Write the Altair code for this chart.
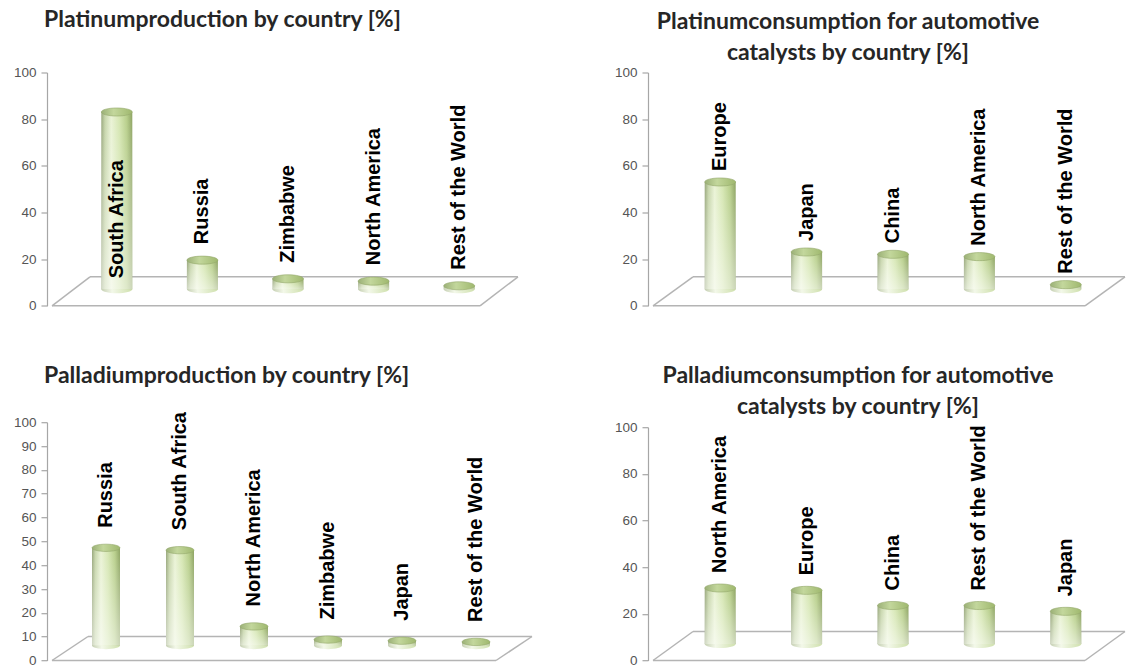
import altair as alt
import pandas as pd

# ---------------------------------------------------------------- data ----
pt_prod_regions = ["South Africa", "Russia", "Zimbabwe", "North America", "Rest of the World"]
pt_prod_share = [76, 12.5, 4.5, 3.5, 1.5]

pt_auto_regions = ["Europe", "Japan", "China", "North America", "Rest of the World"]
pt_auto_share = [46, 16, 15, 14, 2]

pd_prod_regions = ["Russia", "South Africa", "North America", "Zimbabwe", "Japan", "Rest of the World"]
pd_prod_share = [41, 40, 8, 2.5, 2, 1.5]

pd_auto_regions = ["North America", "Europe", "China", "Rest of the World", "Japan"]
pd_auto_share = [24, 23, 16.5, 16.5, 14]

ticks_step20 = [0, 20, 40, 60, 80, 100]
ticks_step10 = [0, 10, 20, 30, 40, 50, 60, 70, 80, 90, 100]

# ------------------------------------------------------------- styling ----
AXIS_GREY = "#a6a6a6"
FLOOR_GREY = "#b4b4b4"
# unit ellipse used for the top and bottom faces of the cylinders
ELLIPSE = "M-1,0 A1,0.26 0 1,1 1,0 A1,0.26 0 1,1 -1,0 Z"


def hgrad(stops):
    return alt.Gradient(
        gradient="linear", x1=0, x2=1, y1=0, y2=0,
        stops=[alt.GradientStop(offset=o, color=c) for o, c in stops],
    )


BODY = hgrad([(0, "#98a77c"), (0.12, "#c6d5aa"), (0.32, "#eaf3d6"),
              (0.58, "#d5e6b2"), (0.82, "#b7ce8a"), (1, "#8ea463")])
CAP = hgrad([(0, "#9bb077"), (0.4, "#c3d79c"), (1, "#9fb86e")])
FOOT = hgrad([(0, "#c5cfb2"), (0.35, "#f3f8e9"), (1, "#cfe0ad")])
SHEEN = alt.Gradient(
    gradient="linear", x1=0, x2=0, y1=0, y2=1,
    stops=[alt.GradientStop(offset=0, color="rgba(255,255,255,0)"),
           alt.GradientStop(offset=1, color="rgba(255,255,255,0.55)")],
)

TITLE_FONT = "Lato"
LABEL_FONT = "Liberation Sans"


def panel(regions, shares, title, ticks, width, height, depth, shift, bar_w, gap,
          inside_gap=11, top=0):
    n = len(regions)
    dx, dy = depth          # floor receding to the back right
    sx, sy = shift          # where the cylinders stand on that floor

    bars = pd.DataFrame({"region": regions, "share": shares,
                         "pos": [i + 0.5 for i in range(n)]})
    floor = pd.DataFrame({"left": [0], "right": [n], "base": [0]})

    xs = alt.Scale(domain=[0, n], nice=False, zero=False)
    ys = alt.Scale(domain=[0, 100], nice=False, range=[height, top])
    yaxis = alt.Axis(values=ticks, title=None, grid=False,
                     domainColor=AXIS_GREY, domainWidth=1.2,
                     tickColor=AXIS_GREY, tickSize=6, tickWidth=1.2,
                     labelFont=LABEL_FONT, labelFontSize=13.5,
                     labelColor="#555555", labelPadding=5)

    fx = alt.X("left:Q", scale=xs, axis=None)
    fy = alt.Y("base:Q", scale=ys, axis=yaxis)
    front = alt.Chart(floor).mark_rule(
        color=FLOOR_GREY, strokeWidth=1.5,
    ).encode(x=fx, x2="right:Q", y=fy)
    back = alt.Chart(floor).mark_rule(
        color=FLOOR_GREY, strokeWidth=1.5,
        xOffset=dx, x2Offset=dx, yOffset=dy,
    ).encode(x=fx, x2="right:Q", y=fy)
    side_l = alt.Chart(floor).mark_rule(
        color=FLOOR_GREY, strokeWidth=1.5, x2Offset=dx, y2Offset=dy,
    ).encode(x=fx, x2="left:Q", y=fy, y2="base:Q")
    side_r = alt.Chart(floor).mark_rule(
        color=FLOOR_GREY, strokeWidth=1.5, x2Offset=dx, y2Offset=dy,
    ).encode(x=alt.X("right:Q", scale=xs, axis=None), x2="right:Q", y=fy, y2="base:Q")

    bx = alt.X("pos:Q", scale=xs, axis=None)
    by = alt.Y("share:Q", scale=ys, axis=yaxis)
    base = alt.Chart(bars).transform_calculate(zero="0")

    foot = base.mark_point(
        shape=ELLIPSE, size=bar_w ** 2, filled=True, fill=FOOT, opacity=1,
        xOffset=sx, yOffset=sy,
    ).encode(x=bx, y=alt.Y("zero:Q", scale=ys, axis=yaxis))
    body = base.mark_bar(
        orient="vertical", fill=BODY, width=bar_w,
        xOffset=sx, yOffset=sy, y2Offset=sy,
    ).encode(x=bx, y=by, y2="zero:Q")
    sheen = base.mark_bar(
        orient="vertical", fill=SHEEN, width=bar_w,
        xOffset=sx, yOffset=sy, y2Offset=sy,
    ).encode(x=bx, y=by, y2="zero:Q")
    cap = base.mark_point(
        shape=ELLIPSE, size=bar_w ** 2, filled=True, fill=CAP, opacity=1,
        stroke="#93a86b", strokeWidth=0.6, xOffset=sx, yOffset=sy,
    ).encode(x=bx, y=by)

    text_style = dict(angle=270, align="left", baseline="middle",
                      font=LABEL_FONT, fontWeight="bold", fontSize=20,
                      color="black", xOffset=sx)
    # region names stand upright above each cylinder ...
    above = base.transform_filter("datum.share <= 60").mark_text(
        yOffset=sy - gap, **text_style,
    ).encode(x=bx, y=by, text="region:N")
    # ... except on a cylinder too tall for that, where it runs up the side
    inside = base.transform_filter("datum.share > 60").mark_text(
        yOffset=sy - inside_gap, **text_style,
    ).encode(x=bx, y=alt.Y("zero:Q", scale=ys, axis=yaxis), text="region:N")

    return alt.layer(front, back, side_l, side_r, foot, body, sheen, cap,
                     above, inside).properties(width=width, height=height, title=title)


def single_title(text, offset):
    return alt.TitleParams(
        text=text, anchor="start", frame="group", font=TITLE_FONT,
        fontSize=23, fontWeight="bold", color="#262626",
        baseline="alphabetic", offset=offset, dx=-3,
    )


def double_title(lines, offset, dx):
    return alt.TitleParams(
        text=lines, anchor="middle", frame="group", font=TITLE_FONT,
        fontSize=23, fontWeight="bold", color="#262626",
        baseline="alphabetic", offset=offset, dx=dx, lineHeight=31,
    )


pt_prod = panel(pt_prod_regions, pt_prod_share,
                single_title("Platinumproduction by country [%]", 16),
                ticks_step20, 438, 233.3, (38, -29), (22, -16.5), 31, 16)
pt_auto = panel(pt_auto_regions, pt_auto_share,
                double_title(["Platinumconsumption for automotive",
                              "catalysts by country [%]"], -17.5, -21),
                ticks_step20, 442, 233.3, (40, -29), (24, -16.5), 31, 11)
pd_prod = panel(pd_prod_regions, pd_prod_share,
                single_title("Palladiumproduction by country [%]", 5),
                ticks_step10, 454, 238.3, (36, -24), (17, -15), 28, 20)
pd_auto = panel(pd_auto_regions, pd_auto_share,
                double_title(["Palladiumconsumption for automotive",
                              "catalysts by country [%]"], -17, -11),
                ticks_step20, 442, 238.3, (40, -29), (24, -16.5), 31, 15, top=5)

chart = alt.concat(
    pt_prod, pt_auto, pd_prod, pd_auto,
    columns=2, spacing={"row": 115.7, "column": 147}, bounds="flush",
).properties(
    padding={"left": 13, "top": 8.5, "right": 0, "bottom": 0},
    background="white",
).configure_view(stroke=None)

chart.save("out.html", embed_options={"renderer": "svg", "actions": False})
